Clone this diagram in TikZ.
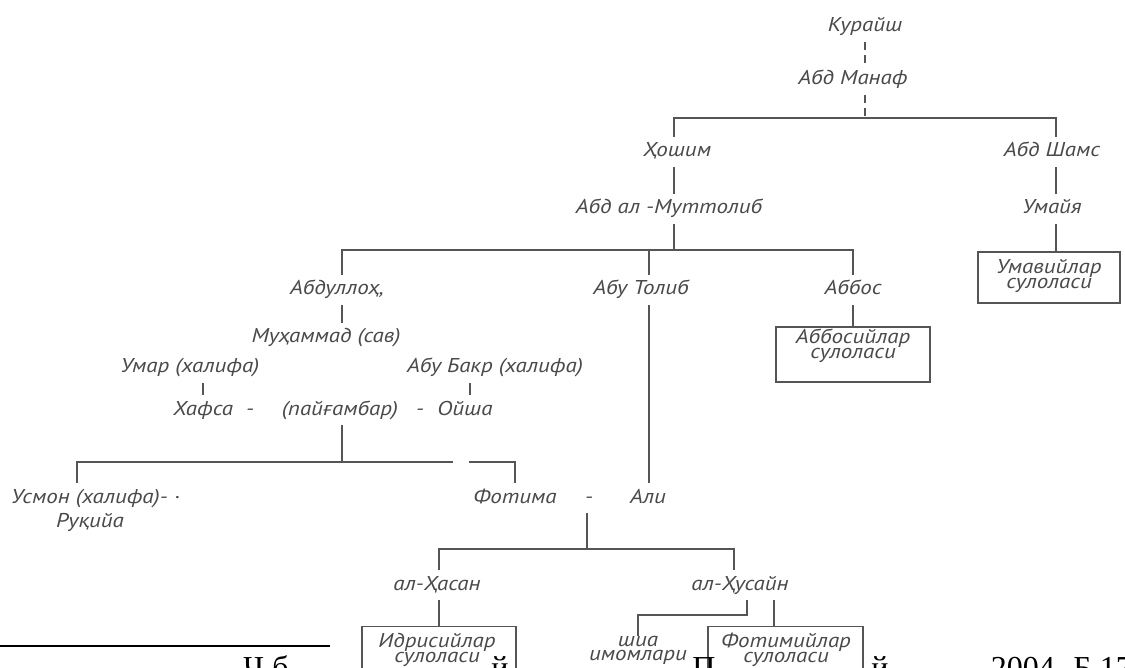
\documentclass[tikz,border=0pt]{standalone}
\usepackage{fontspec}
\newfontfamily\tf[FakeStretch=1.15]{PT Sans}
\newfontfamily\fnf{Liberation Serif}
\definecolor{txtc}{HTML}{4A4A4A}
\definecolor{linec}{HTML}{555555}
\tikzset{
  tx/.style={font=\tf\itshape\fontsize{20}{20}\selectfont, text=txtc, inner xsep=2pt, inner ysep=6pt, text height=14pt, text depth=4pt},
  boxtx/.style={font=\tf\itshape\fontsize{20}{14}\selectfont, text=txtc, align=center, inner sep=0pt},
  ln/.style={draw=linec, line width=1.3pt},
  dashln/.style={ln, dash pattern=on 8pt off 5pt},
  frame/.style={draw=linec, line width=1.3pt, fill=white},
  fntx/.style={font=\fnf\fontsize{32}{32}\selectfont, text=black, inner sep=0pt, anchor=base}
}
\begin{document}
\begin{tikzpicture}[x=1pt,y=-1pt]
\useasboundingbox[fill=white] (0,0) rectangle (1125,668);

% footnote rule
\coordinate (fn1) at (0,646);
\coordinate (fn2) at (330,646);
\draw[black, line width=2pt] (fn1) -- (fn2);

% nodes
\node[tx] (kur) at (865,27) {Курайш};
\node[tx] (man) at (853,80) {Абд Манаф};
\node[tx] (hosh) at (677,152) {Ҳошим};
\node[tx] (shams) at (1052,152) {Абд Шамс};
\node[tx] (mutt) at (669,209) {Абд ал -Муттолиб};
\node[tx] (umay) at (1052,209) {Умайя};
\node[frame, minimum width=142pt, minimum height=51pt] (umavb) at (1049,277.5) {};
\node[boxtx] (umavt) at (1049,276) {Умавийлар\\сулоласи};
\node[tx] (abdul) at (337,290) {Абдуллоҳ,};
\node[tx] (tolib) at (641,290) {Абу Толиб};
\node[tx] (abbos) at (853,290) {Аббос};
\node[frame, minimum width=154pt, minimum height=55pt] (abbb) at (853,354.5) {};
\node[boxtx] (abbt) at (853,346) {Аббосийлар\\сулоласи};
\node[tx] (muh) at (326,338) {Муҳаммад (сав)};
\node[tx] (umar) at (190,368) {Умар (халифа)};
\node[tx] (bakr) at (495,368) {Абу Бакр (халифа)};
\node[tx] (hafsa) at (203,410) {Хафса};
\node[tx] (d1) at (250,410) {-};
\node[tx] (payg) at (340,410) {(пайғамбар)};
\node[tx] (d2) at (420,410) {-};
\node[tx] (oysha) at (465,410) {Ойша};
\node[tx, anchor=west] (usmon) at (9,498) {Усмон (халифа)- ·};
\node[tx] (ruq) at (90,522) {Руқийа};
\node[tx] (fot) at (515,498) {Фотима};
\node[tx] (d3) at (589,498) {-};
\node[tx] (ali) at (648,498) {Али};
\node[tx] (hasan) at (437,585) {ал-Ҳасан};
\node[tx] (husayn) at (740,585) {ал-Ҳусайн};
\node[frame, minimum width=154pt, minimum height=80pt, anchor=north] (idb) at (439,626) {};
\node[boxtx] (idt) at (437,650) {Идрисийлар\\сулоласи};
\node[boxtx] (shia) at (638,650) {шиа\\имомлари};
\node[frame, minimum width=155pt, minimum height=80pt, anchor=north] (fotb) at (785.5,626) {};
\node[boxtx] (fott) at (786,650) {Фотимийлар\\сулоласи};

% footnote fragments, mostly hidden by the picture
\node[fntx] (fa) at (266,678) {Ч.б};
\node[fntx] (fb) at (500,678) {й};
\node[fntx] (fc) at (704,678) {П};
\node[fntx] (fd) at (880,678) {й};
\node[fntx, anchor=base east] (fe) at (1132,678) {2004. Б.17};

% junctions
\coordinate (jm) at (865,118);
\coordinate (h1l) at (674,118);
\coordinate (h1r) at (1056,118);
\coordinate (h2l) at (342,250);
\coordinate (h2m) at (649,250);
\coordinate (h2c) at (674,250);
\coordinate (h2r) at (853,250);
\coordinate (vu) at (203,380);
\coordinate (vb) at (470,380);
\coordinate (h3l) at (77,462);
\coordinate (h3c) at (342,462);
\coordinate (h3g1) at (453,462);
\coordinate (h3g2) at (469,462);
\coordinate (h3r) at (515,462);
\coordinate (vt) at (649,300);
\coordinate (h4l) at (439,549);
\coordinate (h4c) at (587,549);
\coordinate (h4r) at (734,549);
\coordinate (h5r) at (747,615);
\coordinate (h5l) at (638,615);
\coordinate (vf) at (774,600);

% connectors
\draw[dashln] (kur.south -| jm) -- (man.north -| jm);
\draw[dashln] (man.south -| jm) -- (jm);
\draw[ln] (hosh.north -| h1l) -- (h1l) -- (h1r) -- (shams.north -| h1r);
\draw[ln] (hosh.south -| h1l) -- (mutt.north -| h1l);
\draw[ln] (shams.south -| h1r) -- (umay.north -| h1r);
\draw[ln] (umay.south -| h1r) -- (umavb.north -| h1r);
\draw[ln] (mutt.south -| h2c) -- (h2c);
\draw[ln] (abdul.north -| h2l) -- (h2l) -- (h2r) -- (abbos.north -| h2r);
\draw[ln] (h2m) -- (tolib.north -| h2m);
\draw[ln] (abdul.south -| h2l) -- (muh.north -| h2l);
\draw[ln] (abbos.south -| h2r) -- (abbb.north -| h2r);
\draw[ln] (umar.south -| vu) -- (hafsa.north -| vu);
\draw[ln] (bakr.south -| vb) -- (oysha.north -| vb);
\draw[ln] (payg.south -| h3c) -- (h3c);
\draw[ln] (usmon.north -| h3l) -- (h3l) -- (h3g1);
\draw[ln] (h3g2) -- (h3r) -- (fot.north -| h3r);
\draw[ln] (tolib.south -| vt) -- (ali.north -| vt);
\draw[ln] (d3.south -| h4c) -- (h4c);
\draw[ln] (hasan.north -| h4l) -- (h4l) -- (h4r) -- (husayn.north -| h4r);
\draw[ln] (hasan.south -| h4l) -- (idb.north -| h4l);
\draw[ln] (husayn.south -| h5r) -- (h5r) -- (h5l) -- (shia.north -| h5l);
\draw[ln] (husayn.south -| vf) -- (fotb.north -| vf);
\end{tikzpicture}
\end{document}
